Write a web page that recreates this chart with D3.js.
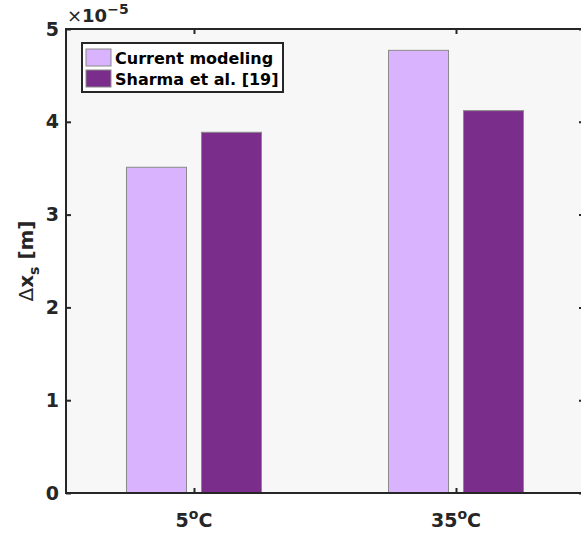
<!DOCTYPE html>
<html>
<head>
<meta charset="utf-8">
<script src="https://cdn.jsdelivr.net/npm/d3@7"></script>
<style>
  body { margin: 0; background: #fff; }
  svg { display: block; font-family: "DejaVu Sans", sans-serif; font-weight: bold; }
</style>
</head>
<body>
<svg width="581" height="535"></svg>
<script>
const svg = d3.select("svg");

// data (units of 1e-5 m)
const categories = ["5", "35"];
const seriesNames = ["Current modeling", "Sharma et al. [19]"];
const currentModeling = [3.51, 4.77];
const sharma = [3.887, 4.12];
const yTicks = [0, 1, 2, 3, 4, 5];

const colors = ["#dab3ff", "#7b2d8b"];
const edge = "#8a8a8a";
const axisColor = "#262626";

// plot box
const boxL = 66, boxR = 584, boxT = 29, boxB = 493;

const x = d3.scalePoint()
  .domain(categories)
  .range([boxL, boxR])
  .padding(0.4885);

const xSub = d3.scaleBand()
  .domain(seriesNames)
  .range([-67.5, 67.5])
  .paddingInner(0.2);

const y = d3.scaleLinear()
  .domain([0, 5])
  .range([boxB, boxT]);

// background
svg.append("rect")
  .attr("x", boxL).attr("y", boxT)
  .attr("width", boxR - boxL).attr("height", boxB - boxT)
  .attr("fill", "#f7f7f7");

// bars
const rows = categories.map((c, i) => ({cat: c, values: [currentModeling[i], sharma[i]]}));

const groups = svg.append("g").selectAll("g")
  .data(rows)
  .join("g")
    .attr("transform", d => "translate(" + x(d.cat) + ",0)");

groups.selectAll("rect")
  .data(d => d.values.map((v, j) => ({name: seriesNames[j], value: v, j: j})))
  .join("rect")
    .attr("x", d => xSub(d.name))
    .attr("y", d => y(d.value))
    .attr("width", xSub.bandwidth())
    .attr("height", d => boxB - y(d.value))
    .attr("fill", d => colors[d.j])
    .attr("stroke", edge)
    .attr("stroke-width", 1);

// frame
svg.append("rect")
  .attr("x", boxL).attr("y", boxT)
  .attr("width", boxR - boxL).attr("height", boxB - boxT)
  .attr("fill", "none")
  .attr("stroke", axisColor)
  .attr("stroke-width", 2);

// y axis (left, ticks inward) + mirrored ticks on right
const yAxis = d3.axisLeft(y).tickValues(yTicks).tickFormat(d3.format("d"))
  .tickSizeInner(-5).tickSizeOuter(0).tickPadding(7);
const gy = svg.append("g")
  .attr("transform", "translate(" + boxL + ",0)")
  .call(yAxis);
gy.select(".domain").remove();
gy.selectAll("line").attr("stroke", axisColor).attr("stroke-width", 2);
gy.selectAll("text")
  .attr("fill", axisColor)
  .style("font-size", "19px")
  .style("font-family", "DejaVu Sans")
  .style("font-weight", "bold");

const gyr = svg.append("g")
  .attr("transform", "translate(" + boxR + ",0)")
  .call(d3.axisRight(y).tickValues(yTicks).tickSizeInner(-5).tickSizeOuter(0).tickFormat(""));
gyr.select(".domain").remove();
gyr.selectAll("line").attr("stroke", axisColor).attr("stroke-width", 2);

// x axis (bottom, ticks inward) + top ticks
const gx = svg.append("g")
  .attr("transform", "translate(0," + boxB + ")")
  .call(d3.axisBottom(x).tickSizeInner(-5).tickSizeOuter(0).tickFormat(""));
gx.select(".domain").remove();
gx.selectAll("line").attr("stroke", axisColor).attr("stroke-width", 2);

const gxt = svg.append("g")
  .attr("transform", "translate(0," + boxT + ")")
  .call(d3.axisTop(x).tickSizeInner(-5).tickSizeOuter(0).tickFormat(""));
gxt.select(".domain").remove();
gxt.selectAll("line").attr("stroke", axisColor).attr("stroke-width", 2);

// x tick labels with degree superscript
const xl = svg.append("g").selectAll("text")
  .data(categories)
  .join("text")
    .attr("x", d => x(d))
    .attr("y", 527)
    .attr("text-anchor", "middle")
    .attr("fill", axisColor)
    .style("font-size", "19px");
xl.append("tspan").text(d => d);
xl.append("tspan").attr("dy", -8).style("font-size", "14px").text("o");
xl.append("tspan").attr("dy", 8).text("C");

// exponent label
const ex = svg.append("text")
  .attr("x", 67)
  .attr("y", 22)
  .attr("fill", axisColor)
  .style("font-size", "18px");
ex.append("tspan").style("font-weight", "normal").text("\u00d7");
ex.append("tspan").text("10");
ex.append("tspan").attr("dy", -8).style("font-size", "14px").text("\u22125");

// y label
const yl = svg.append("text")
  .attr("transform", "translate(33," + 261 + ") rotate(-90)")
  .attr("text-anchor", "middle")
  .attr("fill", axisColor)
  .style("font-size", "20px");
yl.append("tspan").style("font-weight", "normal").text("\u0394");
yl.append("tspan").text("x");
yl.append("tspan").attr("dy", 6).style("font-size", "14px").text("s");
yl.append("tspan").attr("dy", -6).text(" [m]");

// legend
const lg = svg.append("g").attr("transform", "translate(82,43)");
lg.append("rect")
  .attr("width", 201).attr("height", 49)
  .attr("fill", "#fff")
  .attr("stroke", axisColor)
  .attr("stroke-width", 2);
const items = lg.selectAll("g")
  .data(seriesNames)
  .join("g")
    .attr("transform", (d, i) => "translate(4," + (6 + i * 21) + ")");
items.append("rect")
  .attr("width", 25).attr("height", 17)
  .attr("fill", (d, i) => colors[i])
  .attr("stroke", edge);
items.append("text")
  .attr("x", 29)
  .attr("y", 15)
  .attr("fill", "#000")
  .style("font-size", "16px")
  .text(d => d);
</script>
</body>
</html>
